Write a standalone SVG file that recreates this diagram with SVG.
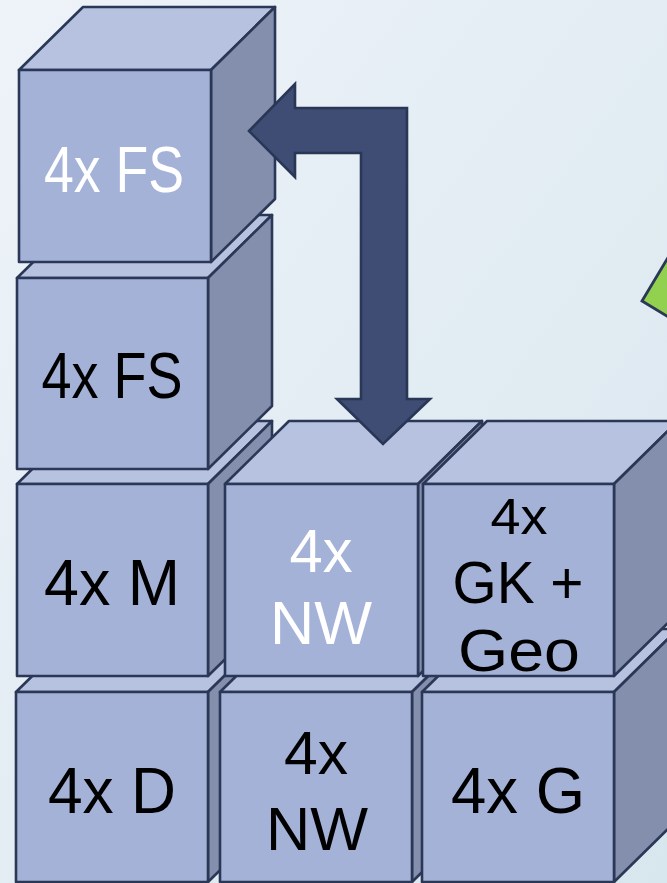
<svg xmlns="http://www.w3.org/2000/svg" width="667" height="883" viewBox="0 0 667 883">
<defs>
<linearGradient id="bg" x1="0" y1="0" x2="1" y2="1">
<stop offset="0" stop-color="#eef3f9"/>
<stop offset="1" stop-color="#d8e6ee"/>
</linearGradient>
<style>
.f{fill:#a4b2d7;stroke:#2b3756;stroke-width:2.6;stroke-linejoin:round}
.t{fill:#b7c2e0;stroke:#2b3756;stroke-width:2.6;stroke-linejoin:round}
.s{fill:#848ead;stroke:#2b3756;stroke-width:2.6;stroke-linejoin:round}
text{font-family:"Liberation Sans",Arial,sans-serif;text-anchor:middle;fill:#000}
.w{fill:#ffffff}
</style>
</defs>
<rect width="667" height="883" fill="url(#bg)"/>

<g id="cube-d">
<polygon class="t" points="16,692 208,692 272,629 80,629"/>
<polygon class="s" points="208,692 272,629 272,819 208,882"/>
<rect class="f" x="16" y="692" width="192" height="190"/>
<text x="112" y="813" font-size="64" textLength="128" lengthAdjust="spacingAndGlyphs">4x D</text>
</g>
<g id="cube-nw-bottom">
<polygon class="t" points="220,692 412,692 476,629 284,629"/>
<polygon class="s" points="412,692 476,629 476,819 412,882"/>
<rect class="f" x="220" y="692" width="192" height="190"/>
<text x="316" y="774" font-size="62" textLength="64" lengthAdjust="spacingAndGlyphs">4x</text>
<text x="317" y="850" font-size="62" textLength="102" lengthAdjust="spacingAndGlyphs">NW</text>
</g>
<g id="cube-g">
<polygon class="t" points="422,692 614,692 678,629 486,629"/>
<polygon class="s" points="614,692 678,629 678,819 614,882"/>
<rect class="f" x="422" y="692" width="192" height="190"/>
<text x="518" y="813" font-size="64" textLength="134" lengthAdjust="spacingAndGlyphs">4x G</text>
</g>
<g id="cube-m">
<polygon class="t" points="17,484 208,484 272,421 81,421"/>
<polygon class="s" points="208,484 272,421 272,613 208,676"/>
<rect class="f" x="17" y="484" width="191" height="192"/>
<text x="112" y="605" font-size="64" textLength="136" lengthAdjust="spacingAndGlyphs">4x M</text>
</g>
<g id="cube-nw-middle">
<polygon class="t" points="225,484 418,484 482,421 289,421"/>
<polygon class="s" points="418,484 482,421 482,613 418,676"/>
<rect class="f" x="225" y="484" width="193" height="192"/>
<text class="w" x="321" y="572" font-size="62" textLength="63" lengthAdjust="spacingAndGlyphs">4x</text>
<text class="w" x="321" y="644" font-size="62" textLength="102" lengthAdjust="spacingAndGlyphs">NW</text>
</g>
<g id="cube-gk-geo">
<polygon class="t" points="423,484 614,484 678,421 487,421"/>
<polygon class="s" points="614,484 678,421 678,613 614,676"/>
<rect class="f" x="423" y="484" width="191" height="192"/>
<text x="519" y="534" font-size="50" textLength="57" lengthAdjust="spacingAndGlyphs">4x</text>
<text x="518" y="603" font-size="60" textLength="131" lengthAdjust="spacingAndGlyphs">GK +</text>
<text x="519" y="671" font-size="60" textLength="122" lengthAdjust="spacingAndGlyphs">Geo</text>
</g>
<g id="cube-fs-lower">
<polygon class="t" points="17,278 208,278 272,215 81,215"/>
<polygon class="s" points="208,278 272,215 272,406 208,469"/>
<rect class="f" x="17" y="278" width="191" height="191"/>
<text x="112" y="398" font-size="64" textLength="141" lengthAdjust="spacingAndGlyphs">4x FS</text>
</g>
<g id="cube-fs-upper">
<polygon class="t" points="19,70 211,70 275,7 83,7"/>
<polygon class="s" points="211,70 275,7 275,199 211,262"/>
<rect class="f" x="19" y="70" width="192" height="192"/>
<text class="w" x="114" y="192" font-size="64" textLength="140" lengthAdjust="spacingAndGlyphs">4x FS</text>
</g>

<g id="connectors">
<path d="M249,131 L295,84 L295,108 L407,108 L407,399 L430,399 L383,444 L337,399 L361,399 L361,153 L295,153 L295,177 Z" fill="#3f4d75" stroke="#2a3655" stroke-width="2.6" stroke-linejoin="miter"/>
</g>

<g id="green-shape">
<polygon points="642,301 672,251 690,330" fill="#92d050" stroke="#2b3756" stroke-width="2.8" stroke-linejoin="miter"/>
</g>
</svg>
